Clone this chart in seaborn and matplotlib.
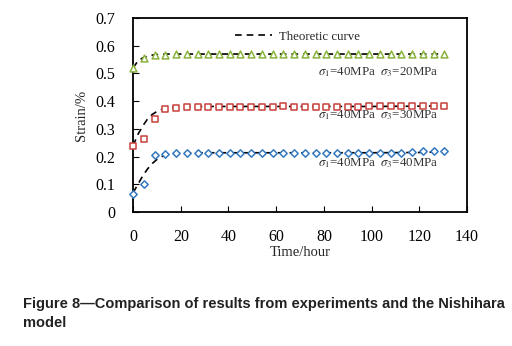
import numpy as np
import pandas as pd
import seaborn as sns
import matplotlib.pyplot as plt

# measured points (hours) and strain (%)
time_exp = [0, 4.5, 9, 13.5, 18, 22.5, 27, 31.5, 36, 40.5, 45, 49.5, 54, 58.5, 63,
            67.5, 72, 76.5, 81, 85.5, 90, 94.5, 99, 103.5, 108, 112.5, 117, 121.5, 126, 130.5]
strain_20 = [0.52, 0.555, 0.565, 0.568, 0.570, 0.570, 0.570, 0.570, 0.570, 0.570,
             0.570, 0.570, 0.570, 0.570, 0.570, 0.570, 0.570, 0.570, 0.570, 0.570,
             0.570, 0.570, 0.570, 0.570, 0.570, 0.570, 0.570, 0.570, 0.570, 0.570]
strain_30 = [0.24, 0.265, 0.335, 0.370, 0.375, 0.380, 0.380, 0.378, 0.378, 0.378,
             0.378, 0.378, 0.378, 0.378, 0.382, 0.380, 0.380, 0.380, 0.380, 0.378,
             0.380, 0.380, 0.382, 0.382, 0.382, 0.382, 0.384, 0.384, 0.384, 0.384]
strain_40 = [0.065, 0.10, 0.205, 0.210, 0.214, 0.214, 0.214, 0.214, 0.214, 0.214,
             0.214, 0.214, 0.214, 0.214, 0.214, 0.214, 0.214, 0.214, 0.214, 0.214,
             0.214, 0.214, 0.214, 0.214, 0.214, 0.214, 0.216, 0.219, 0.219, 0.219]

# theoretic (Nishihara) curves
time_th = [0, 2, 4, 6, 8, 10, 12, 14, 16, 18, 20, 25, 30, 40, 60, 80, 100, 120, 130.5]
theory_20 = [0.52, 0.545, 0.556, 0.562, 0.566, 0.568, 0.569, 0.570, 0.570, 0.570,
             0.570, 0.570, 0.570, 0.570, 0.570, 0.570, 0.570, 0.570, 0.570]
theory_30 = [0.24, 0.28, 0.31, 0.335, 0.352, 0.363, 0.370, 0.374, 0.377, 0.379,
             0.380, 0.381, 0.381, 0.381, 0.381, 0.381, 0.381, 0.382, 0.383]
theory_40 = [0.07, 0.10, 0.13, 0.155, 0.175, 0.19, 0.20, 0.206, 0.210, 0.212,
             0.213, 0.214, 0.214, 0.214, 0.214, 0.214, 0.214, 0.215, 0.218]

series = [
    (strain_20, theory_20, "^", 24, "#8BB33F", 0.505, r"$\sigma_1$=40MPa  $\sigma_3$=20MPa"),
    (strain_30, theory_30, "s", 20, "#C8413C", 0.348, r"$\sigma_1$=40MPa  $\sigma_3$=30MPa"),
    (strain_40, theory_40, "D", 14, "#3479C0", 0.176, r"$\sigma_1$=40MPa  $\sigma_3$=40MPa"),
]

sns.set_style("ticks")
plt.rcParams["font.family"] = ["Liberation Serif", "DejaVu Serif"]
plt.rcParams["mathtext.fontset"] = "stix"

fig = plt.figure(figsize=(5.12, 3.46), dpi=100)
ax = fig.add_axes([0.26, 0.387, 0.652, 0.561])

for i, (exp, th, mk, ms, col, ylab, label) in enumerate(series):
    # dashed model curve
    df_th = pd.DataFrame({"t": time_th, "s": th})
    sns.lineplot(data=df_th, x="t", y="s", ax=ax, color="black", lw=1.2,
                 linestyle=(0, (4, 3)), label="Theoretic curve" if i == 0 else None,
                 zorder=2)
    # hollow experiment markers
    df_exp = pd.DataFrame({"t": time_exp, "s": exp})
    sns.scatterplot(data=df_exp, x="t", y="s", ax=ax, marker=mk, s=ms,
                    facecolor="white", edgecolor=col, linewidth=1.1, zorder=3,
                    clip_on=False)
    ax.text(128, ylab, label, ha="right", va="center", fontsize=9.3, color="#333333")

ax.set_xlim(0, 140)
ax.set_ylim(0, 0.7)
ax.set_xticks(np.arange(0, 141, 20))
ax.set_yticks(np.arange(0, 0.71, 0.1))
ax.set_yticklabels(["0", "0.1", "0.2", "0.3", "0.4", "0.5", "0.6", "0.7"])
ax.tick_params(direction="in", length=4, labelsize=11.5, colors="black")
ax.tick_params(axis="y", pad=13)
ax.tick_params(axis="x", pad=12)
for sp in ax.spines.values():
    sp.set_visible(True)
    sp.set_linewidth(1.3)
    sp.set_color("black")
ax.set_xlabel("Time/hour", fontsize=10.5, labelpad=1)
ax.set_ylabel("Strain/%", fontsize=10.5, labelpad=5)
ax.legend(loc="upper left", bbox_to_anchor=(0.27, 0.995), frameon=False,
          fontsize=9.3, handlelength=2.9, handletextpad=0.5)

fig.text(0.045, 0.094, "Figure 8\u2014Comparison of results from experiments and the Nishihara\nmodel",
         fontsize=10.5, fontweight="bold", family=["Liberation Sans", "DejaVu Sans"],
         color="#222222", va="center", ha="left", linespacing=1.5)

fig.savefig("out.png", dpi=100)
